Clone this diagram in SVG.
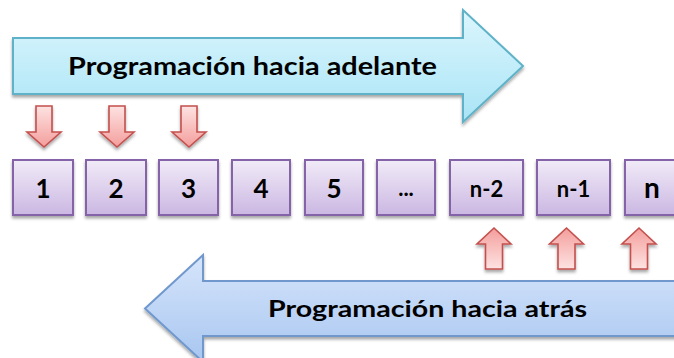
<svg xmlns="http://www.w3.org/2000/svg" width="674" height="358" viewBox="0 0 674 358">
<defs>
<linearGradient id="gTop" x1="0" y1="0" x2="0" y2="1">
<stop offset="0" stop-color="#dcf6fd"/><stop offset="1" stop-color="#a9e4f6"/>
</linearGradient>
<linearGradient id="gBot" x1="0" y1="0" x2="0" y2="1">
<stop offset="0" stop-color="#d6e5fb"/><stop offset="1" stop-color="#a8c6f0"/>
</linearGradient>
<linearGradient id="gBox" x1="0" y1="0" x2="0" y2="1">
<stop offset="0" stop-color="#f1ebf8"/><stop offset="1" stop-color="#cbb7e2"/>
</linearGradient>
<linearGradient id="gRed" x1="0" y1="0" x2="0" y2="1">
<stop offset="0" stop-color="#fde3e2"/><stop offset="1" stop-color="#f39e9c"/>
</linearGradient>
<linearGradient id="gRedUp" x1="0" y1="1" x2="0" y2="0">
<stop offset="0" stop-color="#fde3e2"/><stop offset="1" stop-color="#f39e9c"/>
</linearGradient>
<filter id="sh" x="-20%" y="-20%" width="140%" height="150%">
<feDropShadow dx="0" dy="2.5" stdDeviation="1.8" flood-color="#000" flood-opacity="0.35"/>
</filter>
<style>
.big{fill:url(#gTop);stroke:#5fb2c7;stroke-width:2;filter:url(#sh)}
.bigb{fill:url(#gBot);stroke:#6f98cd;stroke-width:2;filter:url(#sh)}
.box{fill:url(#gBox);stroke:#8464a8;stroke-width:2;filter:url(#sh)}
.dn{fill:url(#gRed);stroke:#c4504e;stroke-width:1.6;filter:url(#sh)}
.up{fill:url(#gRedUp);stroke:#c4504e;stroke-width:1.6;filter:url(#sh)}
text{font-family:Lato,"Open Sans","Liberation Sans",sans-serif;font-weight:700;fill:#000;text-anchor:middle}
.t{font-size:24px;text-anchor:start}
.d{font-size:26px}
.s{font-size:22px}
</style>
</defs>

<g id="arrow-adelante">
<path class="big" d="M13,38 H463 V10 L523,66 L463,122 V94 H13 Z"/>
<text class="t" x="68" y="74.5" textLength="369" lengthAdjust="spacingAndGlyphs">Programación hacia adelante</text>
</g>

<g id="arrow-atras">
<path class="bigb" d="M684,281 H203 V255 L145,308.5 L203,362 V336 H684 Z"/>
<text class="t" x="268" y="317" style="font-size:22.5px" textLength="319" lengthAdjust="spacingAndGlyphs">Programación hacia atrás</text>
</g>

<g id="connectors">
<path class="dn" d="M36,106 H52 V132 H61 L44,147 L27,132 H36 Z"/>
<path class="dn" d="M109,106 H125 V132 H134 L117,147 L100,132 H109 Z"/>
<path class="dn" d="M181,106 H197 V132 H206 L189,147 L172,132 H181 Z"/>
<path class="up" d="M485.5,269 H502.5 V244 H511 L494,228 L477,244 H485.5 Z"/>
<path class="up" d="M558,269 H575 V244 H583.5 L566.5,228 L549.5,244 H558 Z"/>
<path class="up" d="M630.5,269 H647.5 V244 H656 L639,228 L622,244 H630.5 Z"/>
</g>

<g id="box-1"><rect class="box" x="13" y="160" width="60" height="55"/><text class="d" x="43" y="197.5">1</text></g>
<g id="box-2"><rect class="box" x="86" y="160" width="60" height="55"/><text class="d" x="116" y="197.5">2</text></g>
<g id="box-3"><rect class="box" x="159" y="160" width="59" height="55"/><text class="d" x="188.5" y="197.5">3</text></g>
<g id="box-4"><rect class="box" x="232" y="160" width="58" height="55"/><text class="d" x="261" y="197.5">4</text></g>
<g id="box-5"><rect class="box" x="305" y="160" width="58" height="55"/><text class="d" x="334" y="197.5">5</text></g>
<g id="box-dots"><rect class="box" x="377" y="160" width="58" height="55"/><text class="s" x="406" y="196">...</text></g>
<g id="box-n-2"><rect class="box" x="450" y="160" width="73" height="55"/><text class="s" x="486.5" y="197">n-2</text></g>
<g id="box-n-1"><rect class="box" x="537" y="160" width="73" height="55"/><text class="s" x="573.5" y="197">n-1</text></g>
<g id="box-n"><rect class="box" x="625" y="160" width="73" height="55"/><text class="d" x="652" y="197.5" style="font-size:28px">n</text></g>
</svg>
